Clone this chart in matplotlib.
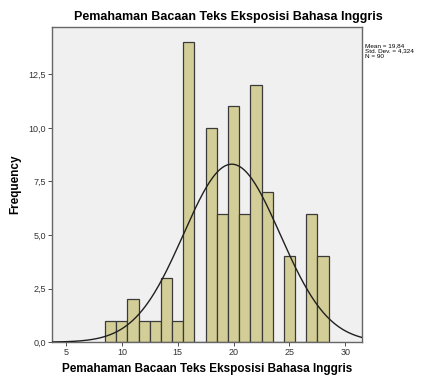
import numpy as np
import matplotlib
matplotlib.use("Agg")
import matplotlib.pyplot as plt

plt.rcParams['font.family'] = ['Liberation Sans', 'DejaVu Sans']

# histogram bins (centre value) and counts
scores = [9, 10, 11, 12, 13, 14, 15, 16, 17, 18, 19, 20, 21, 22, 23, 24, 25, 26, 27, 28]
counts = [1, 1, 2, 1, 1, 3, 1, 14, 0, 10, 6, 11, 6, 12, 7, 0, 4, 0, 6, 4]
mean, sd, n = 19.84, 4.324, 90
title = "Pemahaman Bacaan Teks Eksposisi Bahasa Inggris"

fig = plt.figure(figsize=(4.3, 3.76), dpi=100, facecolor="white")
ax = fig.add_axes([0.121, 0.090, 0.721, 0.838])
ax.set_facecolor("#F0F0F0")

ax.bar(scores, counts, width=1.0, color="#D3CE97", edgecolor="#3a3a3a", linewidth=0.9, zorder=2)

xs = np.linspace(3.75, 31.5, 300)
ys = n * 1.0 / (sd * np.sqrt(2 * np.pi)) * np.exp(-0.5 * ((xs - mean) / sd) ** 2)
ax.plot(xs, ys, color="#202020", linewidth=1.0, zorder=3)

ax.set_xlim(3.75, 31.5)
ax.set_ylim(0, 14.7)
ax.set_xticks([5, 10, 15, 20, 25, 30])
yt = [0, 2.5, 5, 7.5, 10, 12.5]
ax.set_yticks(yt)
ax.set_yticklabels([f"{v:.1f}".replace(".", ",") for v in yt])
ax.tick_params(labelsize=6.5, length=3, width=0.6, color="#333333", labelcolor="#333333", pad=1.5)
for s in ax.spines.values():
    s.set_color("#666666")
    s.set_linewidth(1.0)

ax.set_xlabel(title, fontsize=8.5, fontweight="bold", labelpad=4)
ax.set_ylabel("Frequency", fontsize=8.5, fontweight="bold", labelpad=5)
fig.text(0.53, 0.955, title, ha="center", va="center", fontsize=9, fontweight="bold")

fig.text(0.849, 0.886, f"Mean = 19,84\nStd. Dev. = 4,324\nN = {n}",
         ha="left", va="top", fontsize=4.6, linespacing=1.2)

fig.savefig("out.png", dpi=100, facecolor="white")
